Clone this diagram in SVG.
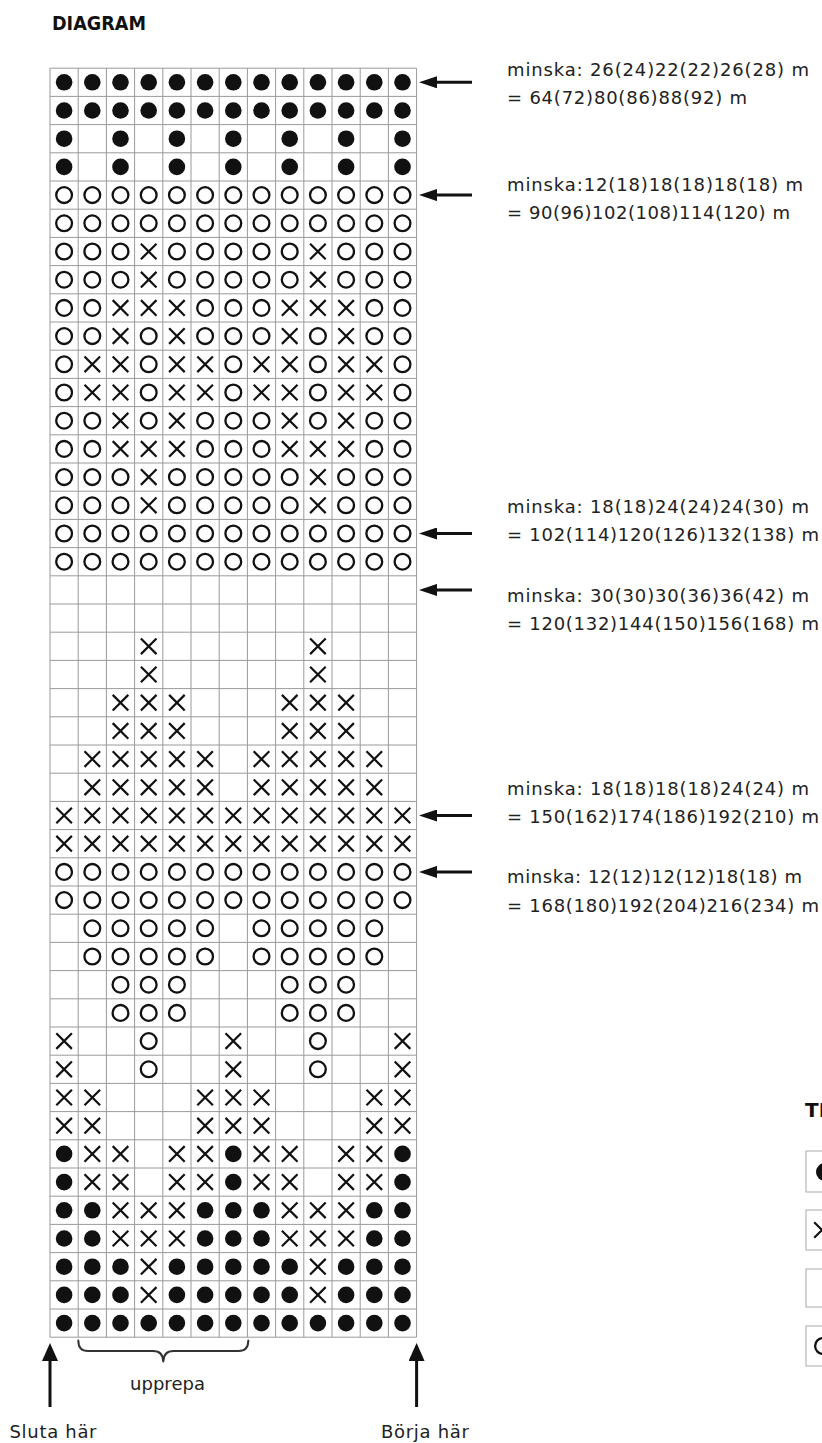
<svg xmlns="http://www.w3.org/2000/svg" xmlns:xlink="http://www.w3.org/1999/xlink" width="822" height="1443" viewBox="0 0 822 1443">
<style>
.t{font-family:"DejaVu Sans","Liberation Sans",sans-serif;font-size:18px;fill:#222}
.b{font-family:"DejaVu Sans","Liberation Sans",sans-serif;font-weight:bold;font-size:20px;fill:#111}
.grid{fill:none;stroke:#9a9a9a;stroke-width:1}
.arr{stroke:#111;stroke-width:3;fill:none}
.brace{stroke:#333;stroke-width:2;fill:none;stroke-linecap:round;stroke-linejoin:round}
.lbox{fill:#fff;stroke:#aaa;stroke-width:1}
</style>
<defs>
<marker id="ahL" viewBox="0 0 18 12" refX="0" refY="6" markerWidth="18" markerHeight="12" markerUnits="userSpaceOnUse" orient="auto"><path d="M0,0L18,6L0,12Z" fill="#111"/></marker>
<marker id="ahU" viewBox="0 0 18 16" refX="0" refY="8" markerWidth="18" markerHeight="16" markerUnits="userSpaceOnUse" orient="auto"><path d="M0,0L18,8L0,16Z" fill="#111"/></marker>
<circle id="d" r="8.3" fill="#111"/>
<circle id="o" r="7.9" fill="none" stroke="#111" stroke-width="2.3"/>
<path id="x" d="M-7.8,-7.8L7.8,7.8M7.8,-7.8L-7.8,7.8" fill="none" stroke="#111" stroke-width="2.2"/>
<g id="rD"><use href="#d" x="64.1"/><use href="#d" x="92.3"/><use href="#d" x="120.5"/><use href="#d" x="148.7"/><use href="#d" x="176.9"/><use href="#d" x="205.1"/><use href="#d" x="233.3"/><use href="#d" x="261.5"/><use href="#d" x="289.7"/><use href="#d" x="317.9"/><use href="#d" x="346.1"/><use href="#d" x="374.3"/><use href="#d" x="402.5"/></g>
<g id="rDa"><use href="#d" x="64.1"/><use href="#d" x="120.5"/><use href="#d" x="176.9"/><use href="#d" x="233.3"/><use href="#d" x="289.7"/><use href="#d" x="346.1"/><use href="#d" x="402.5"/></g>
<g id="rO"><use href="#o" x="64.1"/><use href="#o" x="92.3"/><use href="#o" x="120.5"/><use href="#o" x="148.7"/><use href="#o" x="176.9"/><use href="#o" x="205.1"/><use href="#o" x="233.3"/><use href="#o" x="261.5"/><use href="#o" x="289.7"/><use href="#o" x="317.9"/><use href="#o" x="346.1"/><use href="#o" x="374.3"/><use href="#o" x="402.5"/></g>
<g id="rO39"><use href="#o" x="64.1"/><use href="#o" x="92.3"/><use href="#o" x="120.5"/><use href="#x" x="148.7"/><use href="#o" x="176.9"/><use href="#o" x="205.1"/><use href="#o" x="233.3"/><use href="#o" x="261.5"/><use href="#o" x="289.7"/><use href="#x" x="317.9"/><use href="#o" x="346.1"/><use href="#o" x="374.3"/><use href="#o" x="402.5"/></g>
<g id="rO8"><use href="#o" x="64.1"/><use href="#o" x="92.3"/><use href="#x" x="120.5"/><use href="#x" x="148.7"/><use href="#x" x="176.9"/><use href="#o" x="205.1"/><use href="#o" x="233.3"/><use href="#o" x="261.5"/><use href="#x" x="289.7"/><use href="#x" x="317.9"/><use href="#x" x="346.1"/><use href="#o" x="374.3"/><use href="#o" x="402.5"/></g>
<g id="rO9"><use href="#o" x="64.1"/><use href="#o" x="92.3"/><use href="#x" x="120.5"/><use href="#o" x="148.7"/><use href="#x" x="176.9"/><use href="#o" x="205.1"/><use href="#o" x="233.3"/><use href="#o" x="261.5"/><use href="#x" x="289.7"/><use href="#o" x="317.9"/><use href="#x" x="346.1"/><use href="#o" x="374.3"/><use href="#o" x="402.5"/></g>
<g id="rO10"><use href="#o" x="64.1"/><use href="#x" x="92.3"/><use href="#x" x="120.5"/><use href="#o" x="148.7"/><use href="#x" x="176.9"/><use href="#x" x="205.1"/><use href="#o" x="233.3"/><use href="#x" x="261.5"/><use href="#x" x="289.7"/><use href="#o" x="317.9"/><use href="#x" x="346.1"/><use href="#x" x="374.3"/><use href="#o" x="402.5"/></g>
<g id="rX39"><use href="#x" x="148.7"/><use href="#x" x="317.9"/></g>
<g id="rX3"><use href="#x" x="120.5"/><use href="#x" x="148.7"/><use href="#x" x="176.9"/><use href="#x" x="289.7"/><use href="#x" x="317.9"/><use href="#x" x="346.1"/></g>
<g id="rX5"><use href="#x" x="92.3"/><use href="#x" x="120.5"/><use href="#x" x="148.7"/><use href="#x" x="176.9"/><use href="#x" x="205.1"/><use href="#x" x="261.5"/><use href="#x" x="289.7"/><use href="#x" x="317.9"/><use href="#x" x="346.1"/><use href="#x" x="374.3"/></g>
<g id="rX"><use href="#x" x="64.1"/><use href="#x" x="92.3"/><use href="#x" x="120.5"/><use href="#x" x="148.7"/><use href="#x" x="176.9"/><use href="#x" x="205.1"/><use href="#x" x="233.3"/><use href="#x" x="261.5"/><use href="#x" x="289.7"/><use href="#x" x="317.9"/><use href="#x" x="346.1"/><use href="#x" x="374.3"/><use href="#x" x="402.5"/></g>
<g id="rO5"><use href="#o" x="92.3"/><use href="#o" x="120.5"/><use href="#o" x="148.7"/><use href="#o" x="176.9"/><use href="#o" x="205.1"/><use href="#o" x="261.5"/><use href="#o" x="289.7"/><use href="#o" x="317.9"/><use href="#o" x="346.1"/><use href="#o" x="374.3"/></g>
<g id="rO3"><use href="#o" x="120.5"/><use href="#o" x="148.7"/><use href="#o" x="176.9"/><use href="#o" x="289.7"/><use href="#o" x="317.9"/><use href="#o" x="346.1"/></g>
<g id="r34"><use href="#x" x="64.1"/><use href="#o" x="148.7"/><use href="#x" x="233.3"/><use href="#o" x="317.9"/><use href="#x" x="402.5"/></g>
<g id="r36"><use href="#x" x="64.1"/><use href="#x" x="92.3"/><use href="#x" x="205.1"/><use href="#x" x="233.3"/><use href="#x" x="261.5"/><use href="#x" x="374.3"/><use href="#x" x="402.5"/></g>
<g id="r38"><use href="#d" x="64.1"/><use href="#x" x="92.3"/><use href="#x" x="120.5"/><use href="#x" x="176.9"/><use href="#x" x="205.1"/><use href="#d" x="233.3"/><use href="#x" x="261.5"/><use href="#x" x="289.7"/><use href="#x" x="346.1"/><use href="#x" x="374.3"/><use href="#d" x="402.5"/></g>
<g id="r40"><use href="#d" x="64.1"/><use href="#d" x="92.3"/><use href="#x" x="120.5"/><use href="#x" x="148.7"/><use href="#x" x="176.9"/><use href="#d" x="205.1"/><use href="#d" x="233.3"/><use href="#d" x="261.5"/><use href="#x" x="289.7"/><use href="#x" x="317.9"/><use href="#x" x="346.1"/><use href="#d" x="374.3"/><use href="#d" x="402.5"/></g>
<g id="r42"><use href="#d" x="64.1"/><use href="#d" x="92.3"/><use href="#d" x="120.5"/><use href="#x" x="148.7"/><use href="#d" x="176.9"/><use href="#d" x="205.1"/><use href="#d" x="233.3"/><use href="#d" x="261.5"/><use href="#d" x="289.7"/><use href="#x" x="317.9"/><use href="#d" x="346.1"/><use href="#d" x="374.3"/><use href="#d" x="402.5"/></g>
</defs>
<rect width="822" height="1443" fill="#fff"/>
<g id="title"><text class="b" x="52" y="30" textLength="94" lengthAdjust="spacingAndGlyphs">DIAGRAM</text></g>
<g id="chart-grid">
<path class="grid" d="M50,68.2V1337.2M78.2,68.2V1337.2M106.4,68.2V1337.2M134.6,68.2V1337.2M162.8,68.2V1337.2M191,68.2V1337.2M219.2,68.2V1337.2M247.4,68.2V1337.2M275.6,68.2V1337.2M303.8,68.2V1337.2M332,68.2V1337.2M360.2,68.2V1337.2M388.4,68.2V1337.2M416.6,68.2V1337.2
M50,68.2H416.6M50,96.4H416.6M50,124.6H416.6M50,152.8H416.6M50,181H416.6M50,209.2H416.6M50,237.4H416.6M50,265.6H416.6M50,293.8H416.6M50,322H416.6M50,350.2H416.6M50,378.4H416.6M50,406.6H416.6M50,434.8H416.6M50,463H416.6M50,491.2H416.6M50,519.4H416.6M50,547.6H416.6M50,575.8H416.6M50,604H416.6M50,632.2H416.6M50,660.4H416.6M50,688.6H416.6M50,716.8H416.6M50,745H416.6M50,773.2H416.6M50,801.4H416.6M50,829.6H416.6M50,857.8H416.6M50,886H416.6M50,914.2H416.6M50,942.4H416.6M50,970.6H416.6M50,998.8H416.6M50,1027H416.6M50,1055.2H416.6M50,1083.4H416.6M50,1111.6H416.6M50,1139.8H416.6M50,1168H416.6M50,1196.2H416.6M50,1224.4H416.6M50,1252.6H416.6M50,1280.8H416.6M50,1309H416.6M50,1337.2H416.6"/>
</g>
<g id="chart-symbols">
<use href="#rD" y="82.3"/>
<use href="#rD" y="110.5"/>
<use href="#rDa" y="138.7"/>
<use href="#rDa" y="166.9"/>
<use href="#rO" y="195.1"/>
<use href="#rO" y="223.3"/>
<use href="#rO39" y="251.5"/>
<use href="#rO39" y="279.7"/>
<use href="#rO8" y="307.9"/>
<use href="#rO9" y="336.1"/>
<use href="#rO10" y="364.3"/>
<use href="#rO10" y="392.5"/>
<use href="#rO9" y="420.7"/>
<use href="#rO8" y="448.9"/>
<use href="#rO39" y="477.1"/>
<use href="#rO39" y="505.3"/>
<use href="#rO" y="533.5"/>
<use href="#rO" y="561.7"/>
<use href="#rX39" y="646.3"/>
<use href="#rX39" y="674.5"/>
<use href="#rX3" y="702.7"/>
<use href="#rX3" y="730.9"/>
<use href="#rX5" y="759.1"/>
<use href="#rX5" y="787.3"/>
<use href="#rX" y="815.5"/>
<use href="#rX" y="843.7"/>
<use href="#rO" y="871.9"/>
<use href="#rO" y="900.1"/>
<use href="#rO5" y="928.3"/>
<use href="#rO5" y="956.5"/>
<use href="#rO3" y="984.7"/>
<use href="#rO3" y="1012.9"/>
<use href="#r34" y="1041.1"/>
<use href="#r34" y="1069.3"/>
<use href="#r36" y="1097.5"/>
<use href="#r36" y="1125.7"/>
<use href="#r38" y="1153.9"/>
<use href="#r38" y="1182.1"/>
<use href="#r40" y="1210.3"/>
<use href="#r40" y="1238.5"/>
<use href="#r42" y="1266.7"/>
<use href="#r42" y="1294.9"/>
<use href="#rD" y="1323.1"/>
</g>
<g id="connectors">
<path class="arr" marker-end="url(#ahL)" d="M472,82.3H437"/>
<path class="arr" marker-end="url(#ahL)" d="M472,195.1H437"/>
<path class="arr" marker-end="url(#ahL)" d="M472,533.5H437"/>
<path class="arr" marker-end="url(#ahL)" d="M472,589.9H437"/>
<path class="arr" marker-end="url(#ahL)" d="M472,815.5H437"/>
<path class="arr" marker-end="url(#ahL)" d="M472,871.9H437"/>
<path class="arr" marker-end="url(#ahU)" d="M50,1407V1361"/>
<path class="arr" marker-end="url(#ahU)" d="M416.6,1407V1361"/>
<path class="brace" d="M78.3,1340.5Q78.3,1351 88,1351H153Q163,1351 163.3,1361.5Q163.6,1351 173.6,1351H238.5Q248.3,1351 248.3,1340.5"/>
</g>
<g id="labels">
<text class="t" x="507" y="76" textLength="302" lengthAdjust="spacing">minska: 26(24)22(22)26(28) m</text>
<text class="t" x="507" y="104" textLength="240" lengthAdjust="spacing">= 64(72)80(86)88(92) m</text>
<text class="t" x="507" y="190.5" textLength="296" lengthAdjust="spacing">minska:12(18)18(18)18(18) m</text>
<text class="t" x="507" y="219" textLength="283" lengthAdjust="spacing">= 90(96)102(108)114(120) m</text>
<text class="t" x="507" y="513" textLength="302" lengthAdjust="spacing">minska: 18(18)24(24)24(30) m</text>
<text class="t" x="507" y="541" textLength="312" lengthAdjust="spacing">= 102(114)120(126)132(138) m</text>
<text class="t" x="507" y="601.5" textLength="302" lengthAdjust="spacing">minska: 30(30)30(36)36(42) m</text>
<text class="t" x="507" y="629.5" textLength="312" lengthAdjust="spacing">= 120(132)144(150)156(168) m</text>
<text class="t" x="507" y="795" textLength="302" lengthAdjust="spacing">minska: 18(18)18(18)24(24) m</text>
<text class="t" x="507" y="823.3" textLength="312" lengthAdjust="spacing">= 150(162)174(186)192(210) m</text>
<text class="t" x="507" y="883.3" textLength="295" lengthAdjust="spacing">minska: 12(12)12(12)18(18) m</text>
<text class="t" x="507" y="911.7" textLength="312" lengthAdjust="spacing">= 168(180)192(204)216(234) m</text>
<text class="t" x="130" y="1390" textLength="75" lengthAdjust="spacing">upprepa</text>
<text class="t" x="9.5" y="1438" textLength="87" lengthAdjust="spacing">Sluta här</text>
<text class="t" x="381" y="1438" textLength="88" lengthAdjust="spacing">Börja här</text>
</g>
<g id="legend">
<text class="b" x="805" y="1117">TE</text>
<rect class="lbox" x="806" y="1151" width="40" height="41"/>
<circle cx="825" cy="1172" r="9" fill="#111"/>
<rect class="lbox" x="806" y="1210" width="40" height="40"/>
<use href="#x" x="822" y="1230"/>
<rect class="lbox" x="806" y="1269" width="40" height="38"/>
<rect class="lbox" x="806" y="1326" width="40" height="40"/>
<use href="#o" x="823" y="1346"/>
</g>
</svg>
